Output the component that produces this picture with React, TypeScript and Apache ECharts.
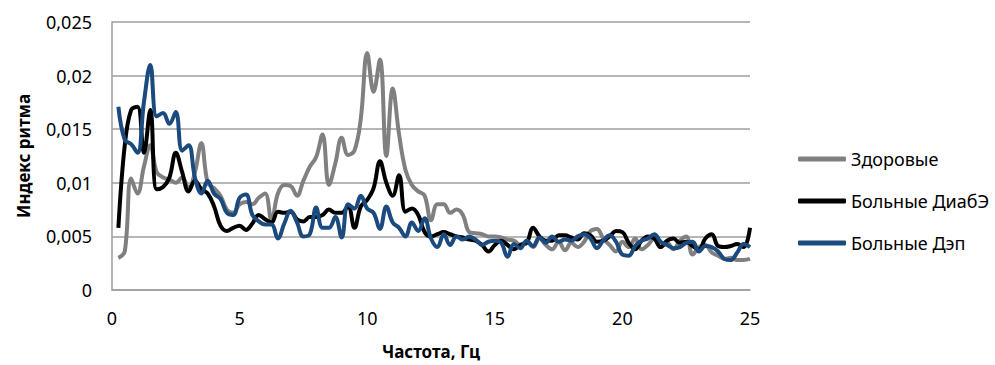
import React, { useEffect, useRef } from "react";
import * as echarts from "echarts";

const seriesNames = ["Здоровые", "Больные ДиабЭ", "Больные Дэп"];
const xTicks = [0, 5, 10, 15, 20, 25];
const yTicks = [0, 0.005, 0.01, 0.015, 0.02, 0.025];

// frequency grid, 0.25 Hz step
const freqs: number[] = Array.from({ length: 100 }, (_, i) => (i + 1) * 0.25);

const healthy = [
  0.0030, 0.0036, 0.0104, 0.0090, 0.0115, 0.0135, 0.0110, 0.0105, 0.0103, 0.0100,
  0.0105, 0.0095, 0.0110, 0.0137, 0.0100, 0.0095, 0.0088, 0.0075, 0.0072, 0.0080,
  0.0082, 0.0080, 0.0086, 0.0090, 0.0065, 0.0090, 0.0098, 0.0097, 0.0088, 0.0102,
  0.0115, 0.0124, 0.0145, 0.0098, 0.0118, 0.0142, 0.0126, 0.0130, 0.0160, 0.0221,
  0.0185, 0.0215, 0.0125, 0.0188, 0.0145, 0.0112, 0.0098, 0.0092, 0.0088, 0.0065,
  0.0080, 0.0080, 0.0072, 0.0075, 0.0070, 0.0054, 0.0053, 0.0052, 0.0050, 0.0050,
  0.0049, 0.0047, 0.0046, 0.0042, 0.0045, 0.0040, 0.0048, 0.0042, 0.0038, 0.0045,
  0.0037, 0.0044, 0.0040, 0.0045, 0.0055, 0.0057, 0.0048, 0.0042, 0.0036, 0.0045,
  0.0040, 0.0048, 0.0038, 0.0042, 0.0048, 0.0040, 0.0044, 0.0038, 0.0046, 0.0050,
  0.0033, 0.0040, 0.0042, 0.0035, 0.0032, 0.0029, 0.0030, 0.0028, 0.0028, 0.0029,
];

const diabE = [
  0.0058, 0.0135, 0.0168, 0.0171, 0.0128, 0.0168, 0.0094, 0.0096, 0.0105, 0.0128,
  0.0110, 0.0092, 0.0102, 0.0094, 0.0090, 0.0078, 0.0060, 0.0055, 0.0058, 0.0060,
  0.0056, 0.0062, 0.0070, 0.0066, 0.0063, 0.0073, 0.0072, 0.0073, 0.0066, 0.0064,
  0.0068, 0.0068, 0.0070, 0.0075, 0.0072, 0.0072, 0.0078, 0.0058, 0.0078, 0.0084,
  0.0095, 0.0120, 0.0100, 0.0088, 0.0107, 0.0073, 0.0076, 0.0070, 0.0054, 0.0050,
  0.0052, 0.0054, 0.0052, 0.0050, 0.0049, 0.0047, 0.0046, 0.0042, 0.0036, 0.0042,
  0.0046, 0.0042, 0.0038, 0.0042, 0.0044, 0.0058, 0.0050, 0.0046, 0.0046, 0.0051,
  0.0051, 0.0049, 0.0047, 0.0053, 0.0051, 0.0045, 0.0046, 0.0050, 0.0055, 0.0054,
  0.0044, 0.0038, 0.0046, 0.0050, 0.0048, 0.0040, 0.0046, 0.0048, 0.0044, 0.0045,
  0.0041, 0.0038, 0.0048, 0.0052, 0.0041, 0.0040, 0.0041, 0.0043, 0.0040, 0.0058,
];

const dep = [
  0.0171, 0.0140, 0.0136, 0.0128, 0.0175, 0.0210, 0.0162, 0.0165, 0.0155, 0.0166,
  0.0130, 0.0135, 0.0105, 0.0090, 0.0102, 0.0090, 0.0085, 0.0072, 0.0070, 0.0086,
  0.0089, 0.0070, 0.0064, 0.0061, 0.0061, 0.0048, 0.0062, 0.0074, 0.0063, 0.0050,
  0.0052, 0.0077, 0.0058, 0.0058, 0.0068, 0.0049, 0.0080, 0.0076, 0.0088, 0.0076,
  0.0072, 0.0057, 0.0078, 0.0063, 0.0058, 0.0050, 0.0063, 0.0055, 0.0067, 0.0048,
  0.0040, 0.0052, 0.0042, 0.0050, 0.0047, 0.0050, 0.0047, 0.0042, 0.0045, 0.0046,
  0.0044, 0.0031, 0.0043, 0.0039, 0.0046, 0.0041, 0.0049, 0.0044, 0.0050, 0.0045,
  0.0047, 0.0046, 0.0050, 0.0052, 0.0048, 0.0039, 0.0046, 0.0051, 0.0045, 0.0033,
  0.0032, 0.0041, 0.0046, 0.0048, 0.0052, 0.0045, 0.0042, 0.0039, 0.0040, 0.0044,
  0.0045, 0.0036, 0.0041, 0.0040, 0.0036, 0.0029, 0.0028, 0.0035, 0.0043, 0.0040,
];

const colors = ["#808080", "#000000", "#1A4A7E"];
const FONT = "'Noto Sans', sans-serif";

export default function App() {
  const ref = useRef<HTMLDivElement>(null);
  useEffect(() => {
    if (!ref.current) return;
    const chart = echarts.init(ref.current, undefined, { renderer: "svg" });
    const all = [healthy, diabE, dep];
    chart.setOption({
      animation: false,
      backgroundColor: "#ffffff",
      grid: { left: 112, right: 245, top: 22, bottom: 74, containLabel: false },
      legend: {
        orient: "vertical",
        left: 793,
        top: 145,
        itemWidth: 48,
        itemHeight: 5,
        itemGap: 24,
        icon: "roundRect",
        data: seriesNames,
        textStyle: { fontFamily: FONT, fontSize: 18, color: "#000" },
      },
      xAxis: {
        type: "value",
        min: xTicks[0],
        max: xTicks[xTicks.length - 1],
        interval: 5,
        name: "Частота, Гц",
        nameLocation: "middle",
        nameGap: 53,
        nameTextStyle: { fontFamily: FONT, fontSize: 17, fontWeight: "bold", color: "#000" },
        axisLine: { show: true, lineStyle: { color: "#9e9e9e", width: 1.5 } },
        axisTick: { show: false },
        splitLine: { show: false },
        axisLabel: { fontFamily: FONT, fontSize: 18, color: "#000", margin: 19 },
      },
      yAxis: {
        type: "value",
        min: yTicks[0],
        max: yTicks[yTicks.length - 1],
        interval: 0.005,
        name: "Индекс ритма",
        nameLocation: "middle",
        nameGap: 80,
        nameTextStyle: { fontFamily: FONT, fontSize: 17, fontWeight: "bold", color: "#000" },
        axisLine: { show: true, lineStyle: { color: "#9e9e9e", width: 1.5 } },
        axisTick: { show: false },
        splitLine: { show: true, lineStyle: { color: "#9e9e9e", width: 1.5 } },
        axisLabel: {
          fontFamily: FONT,
          fontSize: 18,
          color: "#000",
          margin: 20,
          formatter: (v: number) => String(Number(v.toFixed(3))).replace(".", ","),
        },
      },
      series: seriesNames.map((name, k) => ({
        name,
        type: "line",
        smooth: 0.4,
        showSymbol: false,
        symbol: "none",
        data: freqs.map((f, i) => [f, all[k][i]]),
        lineStyle: { color: colors[k], width: 4 },
        itemStyle: { color: colors[k] },
        z: 2 + k,
      })),
    });
    return () => chart.dispose();
  }, []);
  return (
    <div
      ref={ref}
      style={{ position: "fixed", left: 0, top: 0, width: 995, height: 365 }}
    />
  );
}
